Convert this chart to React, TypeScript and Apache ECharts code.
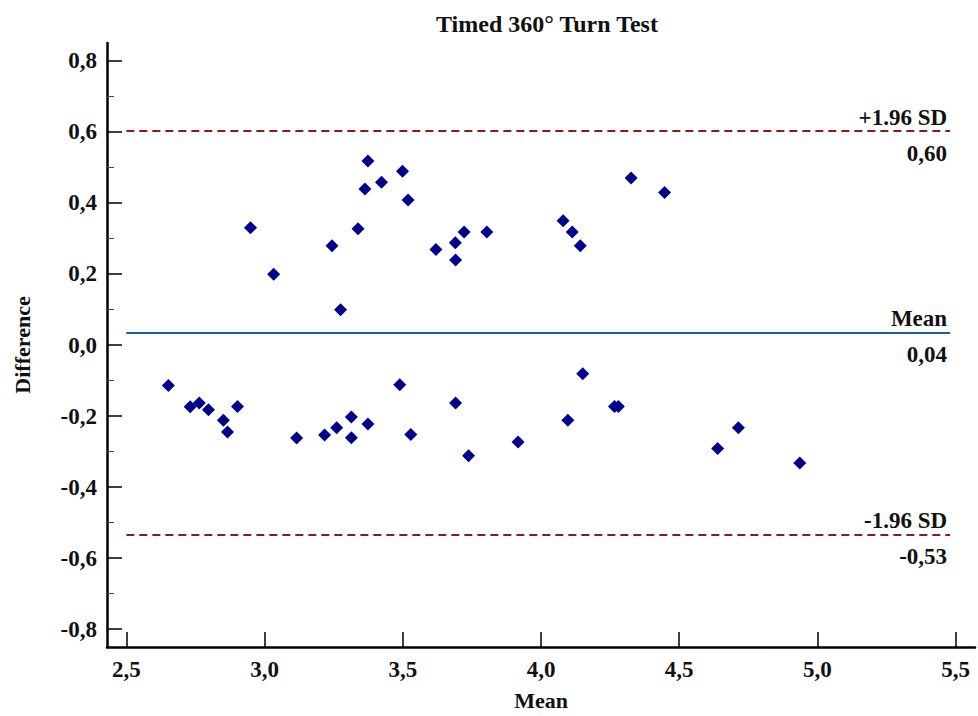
import React, { useEffect, useRef } from "react";
import * as echarts from "echarts";

const TITLE = "Timed 360° Turn Test";
const X_NAME = "Mean";
const Y_NAME = "Difference";

const xTicks = [2.5, 3.0, 3.5, 4.0, 4.5, 5.0, 5.5];
const yTicks = [-0.8, -0.6, -0.4, -0.2, 0.0, 0.2, 0.4, 0.6, 0.8];
const yMinorTicks = [-0.7, -0.5, -0.3, -0.1, 0.1, 0.3, 0.5, 0.7];

const meanValues = [
  2.949, 3.033, 3.244, 3.275, 3.338, 3.363, 3.374, 3.423, 3.499, 3.519,
  3.62, 3.69, 3.691, 3.722, 3.804, 4.08, 4.113, 4.142, 4.326, 4.447,
  2.652, 2.731, 2.764, 2.797, 2.851, 2.866, 2.902, 3.116, 3.217, 3.261,
  3.314, 3.314, 3.374, 3.489, 3.529, 3.691, 3.738, 3.917, 4.097, 4.151,
  4.266, 4.28, 4.639, 4.714, 4.936,
];
const diffValues = [
  0.33, 0.199, 0.279, 0.099, 0.327, 0.439, 0.518, 0.458, 0.489, 0.408,
  0.269, 0.288, 0.239, 0.318, 0.318, 0.35, 0.318, 0.279, 0.47, 0.429,
  -0.114, -0.174, -0.163, -0.182, -0.212, -0.245, -0.173, -0.262, -0.253, -0.233,
  -0.203, -0.261, -0.222, -0.112, -0.252, -0.163, -0.312, -0.273, -0.212, -0.081,
  -0.173, -0.173, -0.291, -0.233, -0.332,
];

const meanDiff = 0.034;
const upperLoA = 0.602;
const lowerLoA = -0.534;
const meanLabel = "0,04";
const upperLabel = "0,60";
const lowerLabel = "-0,53";
const lineStart = 2.5;
const lineEnd = 5.48;

const FONT = "'Liberation Serif', 'Times New Roman', serif";
const comma1 = (v: number) => v.toFixed(1).replace(".", ",");

export default function App() {
  const ref = useRef<HTMLDivElement>(null);
  useEffect(() => {
    if (!ref.current) return;
    const chart = echarts.init(ref.current, null, { renderer: "svg" });
    const txt = { fontFamily: FONT, fontWeight: "bold" as const, fontSize: 22, color: "#111" };
    const tickTxt = { ...txt, fontSize: 23 };
    const rich = {
      a: { ...txt, fontSize: 23, lineHeight: 44, align: "right" },
      b: { ...txt, fontSize: 23, lineHeight: 28, align: "right" },
    };
    const mkLine = (y: number, style: any, top: string, bottom: string) => [
      {
        coord: [lineStart, y],
        lineStyle: style,
        label: {
          show: true,
          position: "insideEnd",
          distance: 3,
          formatter: `{a|${top}}\n{b|${bottom}}`,
          rich,
        },
      },
      { coord: [lineEnd, y] },
    ];
    const dashed = { color: "#8b1a1a", width: 2.2, type: [8, 5] };
    const solid = { color: "#1f5b9c", width: 2.2, type: "solid" };
    chart.setOption({
      animation: false,
      backgroundColor: "#fff",
      title: {
        text: TITLE,
        left: 542,
        textAlign: "center",
        top: 7,
        textStyle: { ...txt, fontSize: 24 },
      },
      grid: { left: 107, top: 43, right: 3, bottom: 65 },
      xAxis: {
        type: "value",
        min: 2.43,
        max: 5.57,
        name: X_NAME,
        nameLocation: "middle",
        nameGap: 42,
        nameTextStyle: txt,
        axisLine: { show: true, onZero: false, lineStyle: { color: "#000", width: 2.5 } },
        axisTick: { show: true, inside: true, length: 15, customValues: xTicks, lineStyle: { color: "#000", width: 1.5 } },
        axisLabel: { customValues: xTicks, formatter: (v: number) => comma1(v), margin: 11, ...tickTxt },
        splitLine: { show: false },
      },
      yAxis: [
        {
          type: "value",
          min: -0.85,
          max: 0.85,
          name: Y_NAME,
          nameLocation: "middle",
          nameGap: 74,
          nameRotate: 90,
          nameTextStyle: txt,
          axisLine: { show: true, onZero: false, lineStyle: { color: "#000", width: 2.5 } },
          axisTick: { show: true, inside: true, length: 15, customValues: yTicks, lineStyle: { color: "#000", width: 1.5 } },
          axisLabel: { customValues: yTicks, formatter: (v: number) => comma1(v), margin: 10, ...tickTxt },
          splitLine: { show: false },
        },
        {
          type: "value",
          min: -0.85,
          max: 0.85,
          position: "left",
          axisLine: { show: false, onZero: false },
          axisTick: { show: true, inside: true, length: 7, customValues: yMinorTicks, lineStyle: { color: "#444", width: 1 } },
          axisLabel: { show: false },
          splitLine: { show: false },
        },
      ],
      series: [
        {
          type: "scatter",
          symbol: "diamond",
          symbolSize: 13,
          itemStyle: { color: "#00008c", opacity: 1 },
          data: meanValues.map((m, i) => [m, diffValues[i]]),
          markLine: {
            silent: true,
            symbol: "none",
            data: [
              mkLine(upperLoA, dashed, "+1.96 SD", upperLabel),
              mkLine(meanDiff, solid, "Mean", meanLabel),
              mkLine(lowerLoA, dashed, "-1.96 SD", lowerLabel),
            ],
          },
        },
      ],
    });
    return () => chart.dispose();
  }, []);
  return (
    <div
      ref={ref}
      style={{ position: "fixed", left: 0, top: 0, width: 978, height: 716, background: "#fff" }}
    />
  );
}
